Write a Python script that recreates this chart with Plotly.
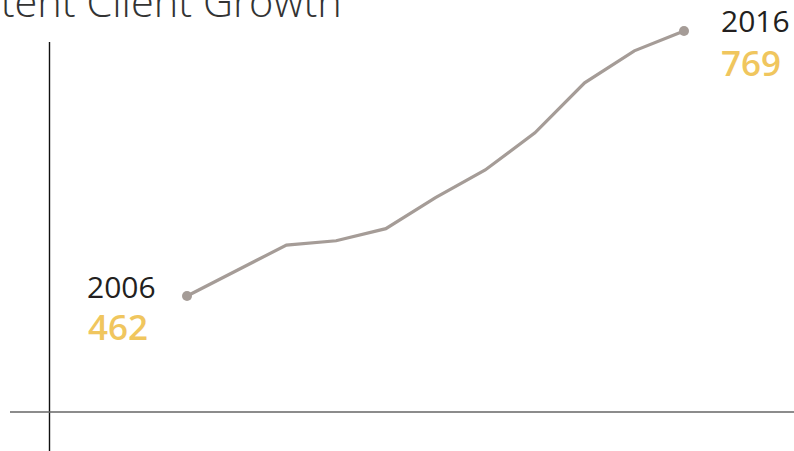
import plotly.graph_objects as go

years = [2006, 2007, 2008, 2009, 2010, 2011, 2012, 2013, 2014, 2015, 2016]
clients = [462, 491, 521, 526, 540, 576, 608, 651, 709, 746, 769]
title_text = "Consistent Client Growth"

LINE = "#a59c97"
GOLD = "#f0c65e"
DARK = "#231f20"

fig = go.Figure()
fig.add_trace(go.Scatter(
    x=years, y=clients, mode="lines",
    line=dict(color=LINE, width=3.2), hoverinfo="skip", showlegend=False,
))
fig.add_trace(go.Scatter(
    x=[years[0], years[-1]], y=[clients[0], clients[-1]], mode="markers",
    marker=dict(color=LINE, size=10), hoverinfo="skip", showlegend=False,
))

W, H = 794, 451
fig.update_layout(
    width=W, height=H, margin=dict(l=0, r=0, t=0, b=0),
    paper_bgcolor="white", plot_bgcolor="white",
    xaxis=dict(range=[2002.237, 2018.213], visible=False, fixedrange=True),
    yaxis=dict(range=[282.4, 804.9], visible=False, fixedrange=True),
    font=dict(family="Open Sans"),
)

# axis lines
fig.add_shape(type="line", xref="paper", yref="paper",
              x0=49.5/W, x1=49.5/W, y0=0, y1=1-42/H,
              line=dict(color="#111111", width=1.4))
fig.add_shape(type="line", xref="paper", yref="paper",
              x0=10/W, x1=1, y0=1-412/H, y1=1-412/H,
              line=dict(color="#666666", width=1.5))

# labels
fig.add_annotation(x=years[0], y=clients[0], text=str(years[0]), showarrow=False,
                   xanchor="right", yanchor="middle", xshift=-29, yshift=9,
                   font=dict(size=30, color=DARK, family="Open Sans"))
fig.add_annotation(x=years[0], y=clients[0], text=str(clients[0]), showarrow=False,
                   xanchor="left", yanchor="middle", xshift=-101, yshift=-31,
                   font=dict(size=35, color=GOLD, family="Open Sans", weight=600))
fig.add_annotation(x=years[-1], y=clients[-1], text=str(years[-1]), showarrow=False,
                   xanchor="left", yanchor="middle", xshift=35, yshift=10,
                   font=dict(size=30, color=DARK, family="Open Sans"))
fig.add_annotation(x=years[-1], y=clients[-1], text=str(clients[-1]), showarrow=False,
                   xanchor="left", yanchor="middle", xshift=35, yshift=-32,
                   font=dict(size=35, color=GOLD, family="Open Sans", weight=600))

# title (cut off at top-left)
fig.add_annotation(xref="paper", yref="paper", x=344/W, y=1, text=title_text,
                   showarrow=False, xanchor="right", yanchor="middle", yshift=-1,
                   font=dict(size=41.5, color="#333333", family="Open Sans", weight=300))

fig.write_html("out.html", config={"displayModeBar": False},
               post_script="document.body.style.margin='0';document.body.style.padding='0';")
